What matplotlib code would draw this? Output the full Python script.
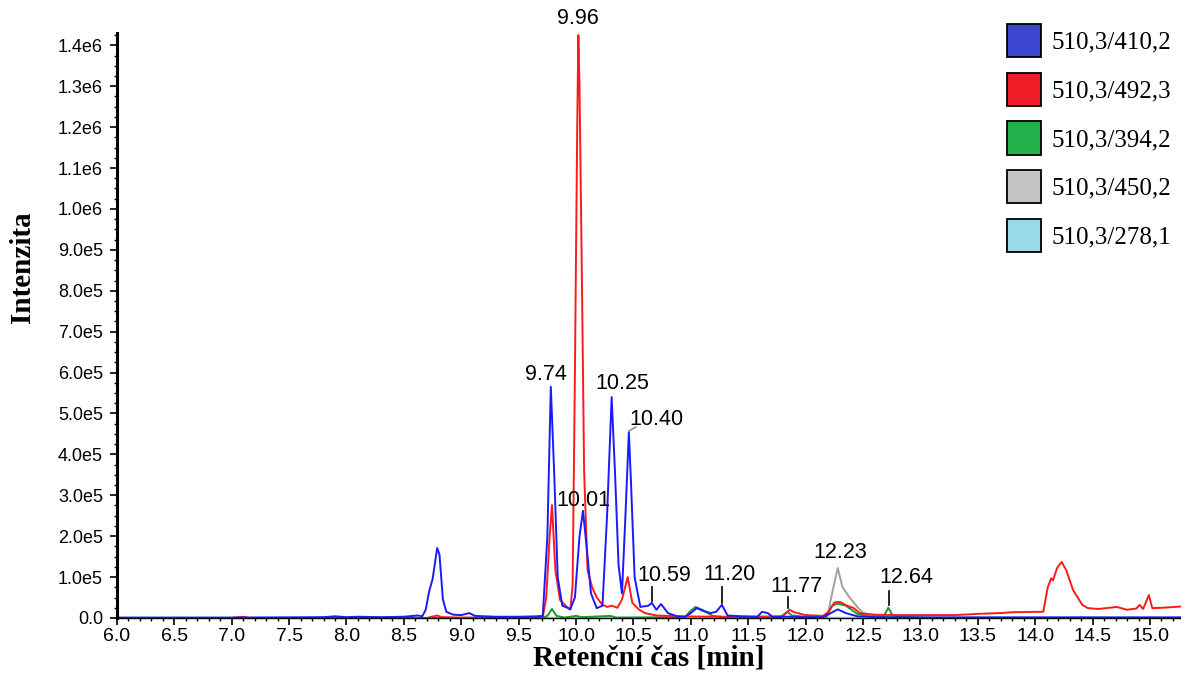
import numpy as np
import matplotlib
matplotlib.use("Agg")
import matplotlib.pyplot as plt
from matplotlib.patches import Patch
from matplotlib.ticker import MultipleLocator, FuncFormatter

# --- data (intensity in units of 1e5) ---
blue_t = [6.0, 6.5, 7.0, 7.5, 7.8, 7.9, 8.0, 8.1, 8.3, 8.5, 8.58, 8.62, 8.66, 8.69, 8.72, 8.75,
          8.79, 8.81, 8.84, 8.87, 8.93, 9.0, 9.07, 9.12, 9.3, 9.5, 9.65, 9.71, 9.75, 9.78, 9.81,
          9.84, 9.88, 9.95, 9.99, 10.03, 10.06, 10.09, 10.13, 10.18, 10.23, 10.27, 10.31, 10.34,
          10.37, 10.40, 10.43, 10.46, 10.48, 10.51, 10.56, 10.63, 10.66, 10.70, 10.74, 10.80,
          10.88, 10.95, 11.0, 11.05, 11.1, 11.17, 11.22, 11.27, 11.32, 11.45, 11.58, 11.62,
          11.67, 11.71, 11.85, 12.0, 12.15, 12.22, 12.28, 12.35, 12.45, 12.6, 13.0, 14.0, 15.27]
blue_i = [0.01, 0.01, 0.01, 0.015, 0.02, 0.04, 0.02, 0.03, 0.02, 0.03, 0.05, 0.06, 0.04, 0.2,
          0.65, 0.95, 1.71, 1.55, 0.45, 0.15, 0.08, 0.07, 0.12, 0.05, 0.03, 0.03, 0.04, 0.05, 2.0,
          5.65, 3.5, 1.0, 0.3, 0.22, 0.5, 2.0, 2.62, 1.8, 0.6, 0.24, 0.3, 2.5, 5.4, 3.5, 1.3, 0.6,
          2.5, 4.55, 3.2, 1.0, 0.27, 0.3, 0.37, 0.2, 0.34, 0.12, 0.04, 0.03, 0.12, 0.24, 0.18,
          0.12, 0.15, 0.32, 0.06, 0.04, 0.03, 0.15, 0.12, 0.03, 0.03, 0.02, 0.02, 0.12, 0.21,
          0.12, 0.04, 0.02, 0.015, 0.015, 0.015]

red_t = [6.0, 7.0, 7.1, 7.15, 8.7, 8.76, 8.79, 8.83, 9.0, 9.5, 9.71, 9.74, 9.77, 9.79, 9.82,
         9.86, 9.92, 9.95, 9.97, 9.99, 10.01, 10.02, 10.03, 10.05, 10.07, 10.10, 10.14, 10.18,
         10.23, 10.27, 10.31, 10.36, 10.40, 10.45, 10.49, 10.55, 10.6, 10.7, 10.9, 11.2, 11.5,
         11.8, 11.86, 11.9, 12.0, 12.15, 12.2, 12.25, 12.3, 12.36, 12.42, 12.47, 12.6, 12.8,
         13.0, 13.3, 13.5, 13.7, 13.8, 14.0, 14.07, 14.11, 14.14, 14.155, 14.19, 14.23, 14.27,
         14.33, 14.41, 14.46, 14.55, 14.65, 14.71, 14.8, 14.88, 14.91, 14.94, 14.99, 15.02,
         15.11, 15.27]
red_i = [0.0, 0.0, 0.03, 0.0, 0.0, 0.04, 0.06, 0.02, 0.01, 0.01, 0.02, 0.5, 2.0, 2.76, 1.17,
         0.44, 0.27, 0.2, 0.8, 6.0, 12.0, 14.25, 13.0, 8.5, 3.6, 1.17, 0.75, 0.5, 0.32, 0.27,
         0.3, 0.25, 0.45, 1.0, 0.37, 0.2, 0.12, 0.06, 0.04, 0.03, 0.03, 0.04, 0.2, 0.14, 0.07,
         0.05, 0.15, 0.38, 0.39, 0.3, 0.24, 0.12, 0.08, 0.07, 0.07, 0.07, 0.1, 0.12, 0.14, 0.15,
         0.15, 0.76, 0.97, 0.92, 1.22, 1.37, 1.17, 0.68, 0.32, 0.24, 0.22, 0.25, 0.27, 0.2,
         0.23, 0.32, 0.22, 0.56, 0.24, 0.25, 0.28]

green_t = [6.0, 9.7, 9.75, 9.79, 9.83, 9.9, 10.0, 10.05, 10.3, 10.35, 10.95, 10.99, 11.04,
           11.1, 11.19, 11.3, 11.78, 11.84, 11.88, 12.0, 12.18, 12.23, 12.28, 12.35, 12.45,
           12.55, 12.68, 12.72, 12.76, 12.9, 13.1, 15.27]
green_i = [0.0, 0.0, 0.05, 0.22, 0.05, 0.01, 0.05, 0.02, 0.05, 0.01, 0.02, 0.15, 0.27, 0.2,
           0.05, 0.02, 0.02, 0.15, 0.06, 0.03, 0.03, 0.3, 0.35, 0.3, 0.1, 0.04, 0.04, 0.25,
           0.05, 0.02, 0.0, 0.0]

gray_t = [6.0, 12.1, 12.19, 12.23, 12.28, 12.32, 12.38, 12.45, 12.5, 12.6, 12.8, 13.0, 15.27]
gray_i = [0.0, 0.0, 0.05, 0.6, 1.22, 0.76, 0.51, 0.27, 0.12, 0.05, 0.02, 0.0, 0.0]

lblue_t = [6.0, 12.9, 12.95, 13.0, 14.35, 14.4, 14.45, 15.27]
lblue_i = [0.0, 0.01, 0.06, 0.01, 0.01, 0.03, 0.01, 0.0]

labels = ["510,3/410,2", "510,3/492,3", "510,3/394,2", "510,3/450,2", "510,3/278,1"]
line_colors = ["#1a1aff", "#ff1a1a", "#1a9a2a", "#a0a0a0", "#a8d8ec"]
patch_colors = ["#3b47d0", "#ee1c24", "#22b04b", "#c3c3c3", "#99d9ea"]

# peak labels: text and its position (min, 1e5)
peak_text = ["9.96", "9.74", "10.25", "10.40", "10.01", "10.59", "11.20", "11.77", "12.23", "12.64"]
peak_pos = [(10.02, 14.65), (9.74, 5.96), (10.40, 5.74), (10.70, 4.84), (10.06, 2.88),
            (10.77, 1.03), (11.34, 1.07), (11.92, 0.78), (12.30, 1.59), (12.88, 0.98)]

fig = plt.figure(figsize=(11.81, 6.77), dpi=100)
ax = fig.add_axes([0.099, 0.0872, 0.901, 0.864])

# drawing order: gray, light blue, green, red, blue on top
series = [(gray_t, gray_i, 3), (lblue_t, lblue_i, 4), (green_t, green_i, 2),
          (red_t, red_i, 1), (blue_t, blue_i, 0)]
for t, i, c in series:
    ax.plot(t, np.array(i) * 1e5, color=line_colors[c], lw=1.4)

for txt, (px, py) in zip(peak_text, peak_pos):
    ax.text(px, py * 1e5, txt, ha="center", va="center", fontsize=15.5,
            family="Liberation Sans", clip_on=False)

# leader lines
for lx, y0, y1 in [(10.66, 0.42, 0.76), (11.27, 0.37, 0.76), (11.85, 0.24, 0.51),
                   (12.73, 0.32, 0.66)]:
    ax.plot([lx, lx], [y0 * 1e5, y1 * 1e5], color="black", lw=1.2)
ax.plot([10.46, 10.52], [4.57e5, 4.67e5], color="#909090", lw=1.2)

ax.set_xlim(6.0, 15.27)
ax.set_ylim(0, 1.43e6)
ax.xaxis.set_major_locator(MultipleLocator(0.5))
ax.xaxis.set_minor_locator(MultipleLocator(0.1))
ax.yaxis.set_major_locator(MultipleLocator(1e5))
ax.yaxis.set_minor_locator(MultipleLocator(2.5e4))
ax.xaxis.set_major_formatter(FuncFormatter(lambda v, p: f"{v:.1f}"))


def sci(v, p):
    if v <= 0:
        return "0.0"
    e = int(np.floor(np.log10(v) + 1e-9))
    return f"{v / 10 ** e:.1f}e{e}"


ax.yaxis.set_major_formatter(FuncFormatter(sci))
for s in ["top", "right"]:
    ax.spines[s].set_visible(False)
ax.spines["left"].set_linewidth(2.2)
ax.spines["bottom"].set_linewidth(1.0)
ax.tick_params(axis="both", which="major", length=5, width=1.2)
ax.tick_params(axis="both", which="minor", length=2.5, width=1.0)
ax.tick_params(axis="x", labelsize=14, pad=2)
ax.tick_params(axis="y", labelsize=13, pad=5)
for lab in ax.get_xticklabels() + ax.get_yticklabels():
    lab.set_family("Liberation Sans")

ax.set_xlabel("Retenční čas [min]", family="Liberation Serif", fontweight="bold",
              fontsize=21, labelpad=0)
ax.set_ylabel("Intenzita", family="Liberation Serif", fontweight="bold", fontsize=21)
ax.yaxis.set_label_coords(-0.076, 0.6)

handles = [Patch(facecolor=c, edgecolor="black", lw=1.3) for c in patch_colors]
leg = fig.legend(handles, labels, loc="upper left", bbox_to_anchor=(0.834, 0.998),
                 frameon=False, prop={"family": "Liberation Serif", "size": 18},
                 handlelength=1.35, handleheight=1.67, labelspacing=0.62, handletextpad=0.4)

fig.savefig("out.png", dpi=100)
